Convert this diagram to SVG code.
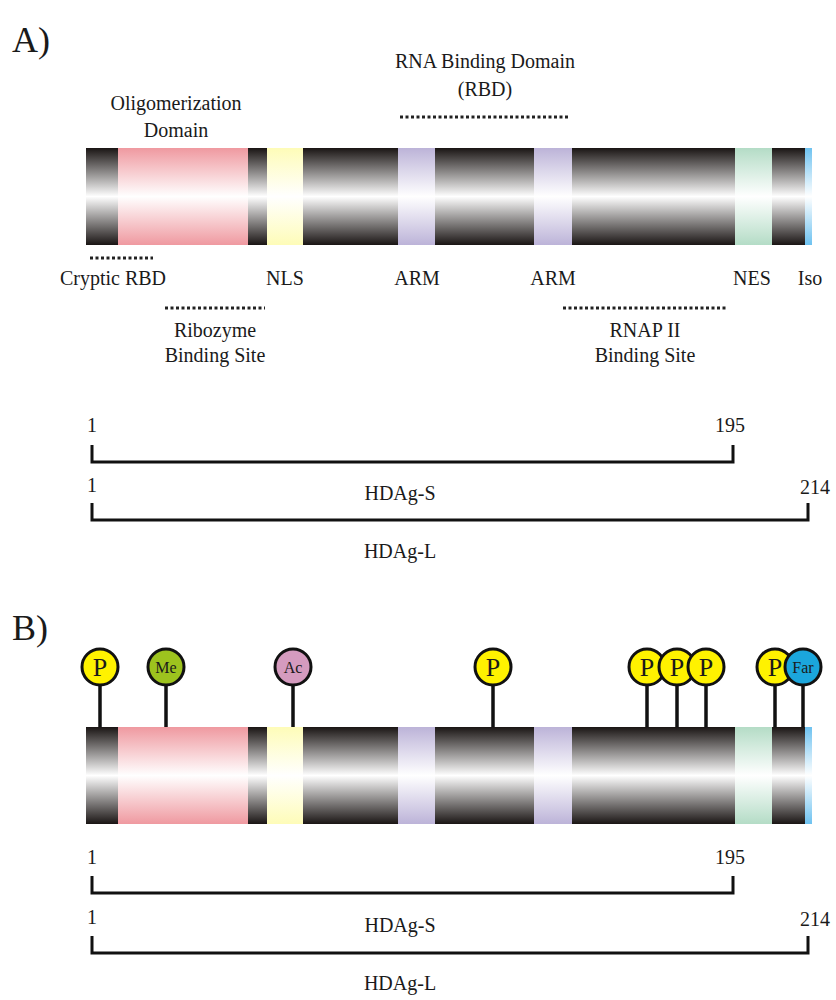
<svg xmlns="http://www.w3.org/2000/svg" width="836" height="1000" viewBox="0 0 836 1000" font-family="'Liberation Serif', 'Times New Roman', serif">
<defs>
<linearGradient id="gk" x1="0" y1="0" x2="0" y2="1"><stop offset="0" stop-color="#1a1514"/><stop offset="0.5" stop-color="#ffffff"/><stop offset="1" stop-color="#1a1514"/></linearGradient>
<linearGradient id="gp" x1="0" y1="0" x2="0" y2="1"><stop offset="0" stop-color="#ef99a0"/><stop offset="0.5" stop-color="#ffffff"/><stop offset="1" stop-color="#ef99a0"/></linearGradient>
<linearGradient id="gy" x1="0" y1="0" x2="0" y2="1"><stop offset="0" stop-color="#fefcb8"/><stop offset="0.5" stop-color="#ffffff"/><stop offset="1" stop-color="#fefcb8"/></linearGradient>
<linearGradient id="gv" x1="0" y1="0" x2="0" y2="1"><stop offset="0" stop-color="#bcb3d8"/><stop offset="0.5" stop-color="#ffffff"/><stop offset="1" stop-color="#bcb3d8"/></linearGradient>
<linearGradient id="gg" x1="0" y1="0" x2="0" y2="1"><stop offset="0" stop-color="#b4dcc6"/><stop offset="0.5" stop-color="#ffffff"/><stop offset="1" stop-color="#b4dcc6"/></linearGradient>
<linearGradient id="gb" x1="0" y1="0" x2="0" y2="1"><stop offset="0" stop-color="#6ec2f0"/><stop offset="0.5" stop-color="#ffffff"/><stop offset="1" stop-color="#6ec2f0"/></linearGradient>
<g id="bar">
<rect x="86" y="0" width="726" height="97" fill="url(#gk)"/>
<rect x="118" y="0" width="130" height="97" fill="url(#gp)"/>
<rect x="267" y="0" width="36" height="97" fill="url(#gy)"/>
<rect x="398" y="0" width="37" height="97" fill="url(#gv)"/>
<rect x="534" y="0" width="38" height="97" fill="url(#gv)"/>
<rect x="735" y="0" width="37" height="97" fill="url(#gg)"/>
<rect x="805" y="0" width="7" height="97" fill="url(#gb)"/>
</g>
</defs>
<style>
text{font-family:'Liberation Serif','Times New Roman',serif;font-size:20px;fill:#1a1a1a}
.h{font-size:36px}
.c{text-anchor:middle}
.dot{stroke:#222;stroke-width:3;stroke-dasharray:3,2.5;fill:none}
.br{stroke:#111;stroke-width:3;fill:none}
.st{stroke:#111;stroke-width:3.5}
.cir{stroke:#111;stroke-width:3}
.m{font-size:26px;text-anchor:middle}
.s{font-size:16px;text-anchor:middle}
</style>
<text class="h" x="12" y="52">A)</text>
<text class="h" x="12" y="640">B)</text>
<g id="barA"><use href="#bar" y="148"/></g>
<g id="labelsA">
<text class="c" x="176" y="110">Oligomerization</text>
<text class="c" x="176" y="137">Domain</text>
<text class="c" x="485" y="68">RNA Binding Domain</text>
<text class="c" x="485" y="96">(RBD)</text>
<text class="c" x="285" y="285">NLS</text>
<text class="c" x="417" y="285">ARM</text>
<text class="c" x="553" y="285">ARM</text>
<text class="c" x="752" y="285">NES</text>
<text class="c" x="810" y="285">Iso</text>
<text class="c" x="113" y="285">Cryptic RBD</text>
<text class="c" x="215" y="337">Ribozyme</text>
<text class="c" x="215" y="362">Binding Site</text>
<text class="c" x="645" y="337">RNAP II</text>
<text class="c" x="645" y="362">Binding Site</text>
</g>
<g id="connectors">
<line class="dot" x1="400" y1="117" x2="570" y2="117"/>
<line class="dot" x1="90" y1="258" x2="153" y2="258"/>
<line class="dot" x1="165" y1="308" x2="265" y2="308"/>
<line class="dot" x1="563" y1="308" x2="728" y2="308"/>
<polyline class="br" points="92,445 92,462 733,462 733,445"/>
<polyline class="br" points="92,503 92,520 808,520 808,503"/>
<polyline class="br" points="92,876 92,893 733,893 733,876"/>
<polyline class="br" points="92,936 92,953 808,953 808,936"/>
<line class="st" x1="100" y1="667" x2="100" y2="727"/>
<line class="st" x1="166" y1="667" x2="166" y2="727"/>
<line class="st" x1="293" y1="667" x2="293" y2="727"/>
<line class="st" x1="493" y1="667" x2="493" y2="727"/>
<line class="st" x1="647" y1="667" x2="647" y2="727"/>
<line class="st" x1="677" y1="667" x2="677" y2="727"/>
<line class="st" x1="706" y1="667" x2="706" y2="727"/>
<line class="st" x1="775" y1="667" x2="775" y2="727"/>
<line class="st" x1="803" y1="667" x2="803" y2="727"/>
</g>
<g id="scaleA">
<text x="87" y="432">1</text>
<text x="715" y="432">195</text>
<text class="c" x="400" y="500">HDAg-S</text>
<text x="87" y="492">1</text>
<text x="800" y="494">214</text>
<text class="c" x="400" y="558">HDAg-L</text>
</g>
<g id="barB"><use href="#bar" y="727"/></g>
<g id="mods">
<circle class="cir" cx="100" cy="667" r="18" fill="#fff200"/><text class="m" x="100" y="676">P</text>
<circle class="cir" cx="166" cy="667" r="18" fill="#9dc31e"/><text class="s" x="166" y="673">Me</text>
<circle class="cir" cx="293" cy="667" r="18" fill="#d59bbf"/><text class="s" x="293" y="673">Ac</text>
<circle class="cir" cx="493" cy="667" r="18" fill="#fff200"/><text class="m" x="493" y="676">P</text>
<circle class="cir" cx="647" cy="667" r="18" fill="#fff200"/><text class="m" x="647" y="676">P</text>
<circle class="cir" cx="677" cy="667" r="18" fill="#fff200"/><text class="m" x="677" y="676">P</text>
<circle class="cir" cx="706" cy="667" r="18" fill="#fff200"/><text class="m" x="706" y="676">P</text>
<circle class="cir" cx="775" cy="667" r="18" fill="#fff200"/><text class="m" x="775" y="676">P</text>
<circle class="cir" cx="803" cy="667" r="18" fill="#1ba6dc"/><text class="s" x="803" y="673">Far</text>
</g>
<g id="scaleB">
<text x="87" y="864">1</text>
<text x="715" y="864">195</text>
<text class="c" x="400" y="932">HDAg-S</text>
<text x="87" y="924">1</text>
<text x="800" y="926">214</text>
<text class="c" x="400" y="990">HDAg-L</text>
</g>
</svg>
